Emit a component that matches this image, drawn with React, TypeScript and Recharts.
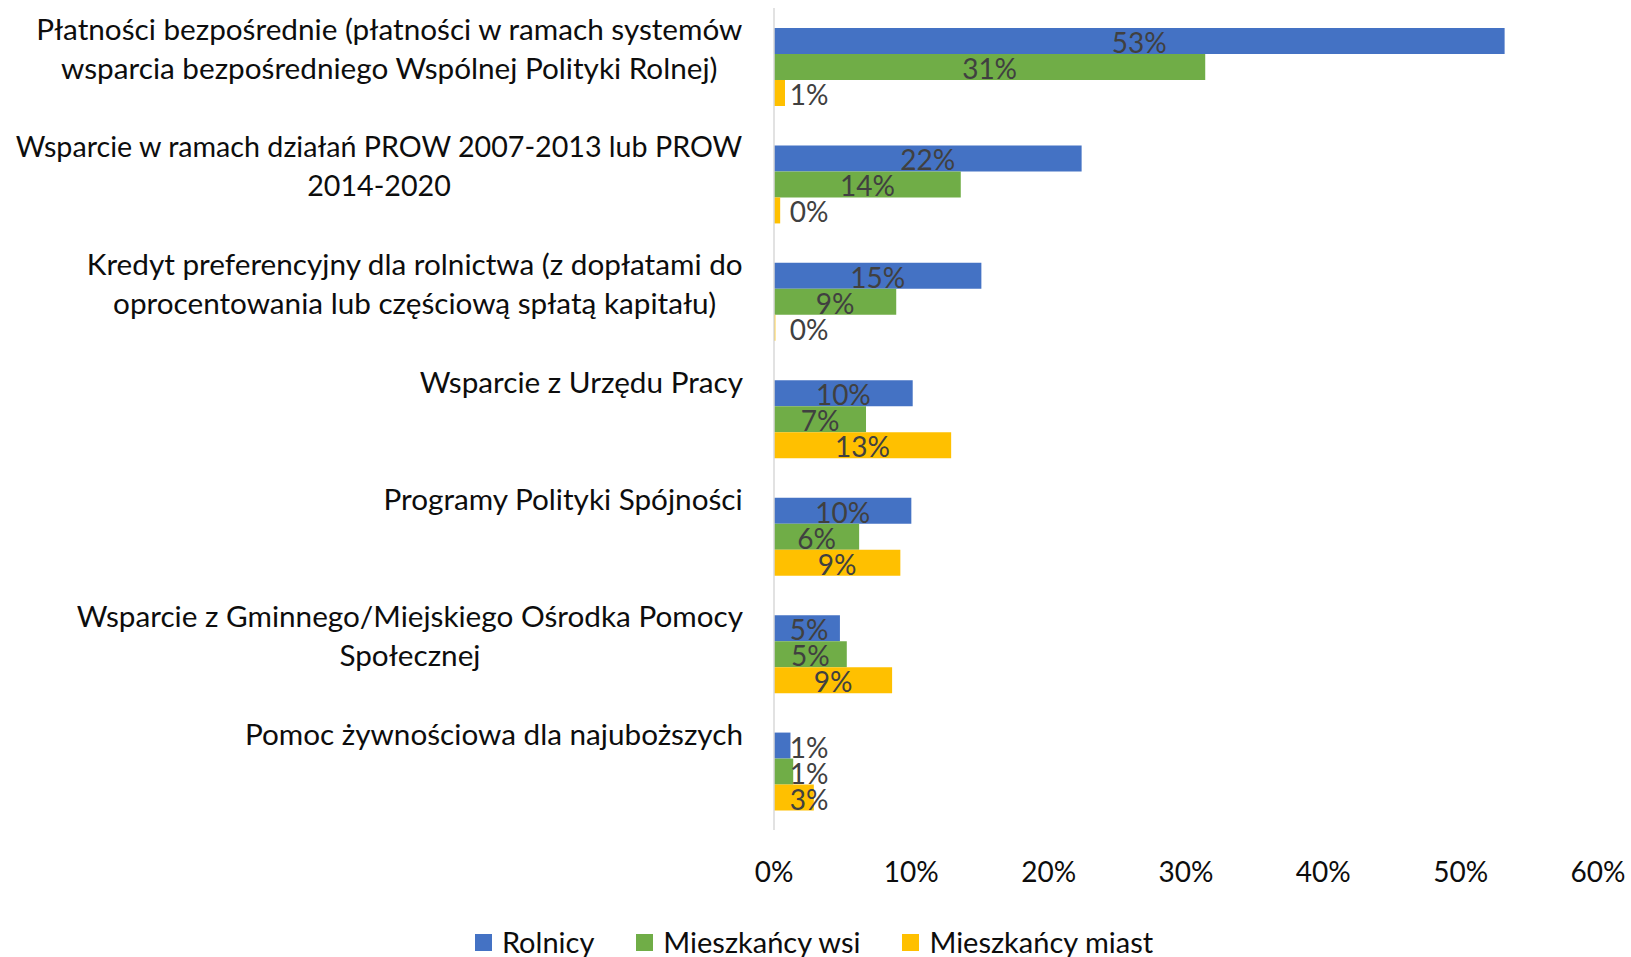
import { Bar, BarChart, LabelList, Legend, XAxis, YAxis } from 'recharts'

const categories = [
  'Płatności bezpośrednie (płatności w ramach systemów\nwsparcia bezpośredniego Wspólnej Polityki Rolnej)',
  'Wsparcie w ramach działań PROW 2007-2013 lub PROW\n2014-2020',
  'Kredyt preferencyjny dla rolnictwa (z dopłatami do\noprocentowania lub częściową spłatą kapitału)',
  'Wsparcie z Urzędu Pracy',
  'Programy Polityki Spójności',
  'Wsparcie z Gminnego/Miejskiego Ośrodka Pomocy\nSpołecznej',
  'Pomoc żywnościowa dla najuboższych',
]
const rolnicy = [53.2, 22.4, 15.1, 10.1, 10.0, 4.8, 1.2]
const wsi = [31.4, 13.6, 8.9, 6.7, 6.2, 5.3, 1.4]
const miast = [0.8, 0.45, 0.1, 12.9, 9.2, 8.6, 2.9]
const xTicks = [0, 10, 20, 30, 40, 50, 60]

const series = [
  { key: 'rolnicy', name: 'Rolnicy', color: '#4472C4' },
  { key: 'wsi', name: 'Mieszkańcy wsi', color: '#70AD47' },
  { key: 'miast', name: 'Mieszkańcy miast', color: '#FFC000' },
]

const data = categories.map((name, i) => ({ name, rolnicy: rolnicy[i], wsi: wsi[i], miast: miast[i] }))

const FONT = 'Lato, "Open Sans", sans-serif'
const FS = 28
const CAT_FS = 29.7
const MAX_LABEL_W = 728

const ctx = typeof document !== 'undefined' ? document.createElement('canvas').getContext('2d') : null
const textWidth = (s: string, size: number) => {
  if (!ctx) return s.length * size * 0.5
  ctx.font = `${size}px Lato`
  return ctx.measureText(s).width
}

function CategoryTick({ x, y, payload }: any) {
  const lines = String(payload.value).split('\n')
  const right = x - 31
  let size = CAT_FS
  let widest = Math.max(...lines.map((l) => textWidth(l, size)))
  if (widest > MAX_LABEL_W) {
    size = (size * MAX_LABEL_W) / widest
    widest = MAX_LABEL_W
  }
  const cx = right - widest / 2
  return (
    <g>
      {lines.map((l, i) => (
        <text key={i} x={cx} y={y - 38 + i * 39} textAnchor="middle" dominantBaseline="central" fontFamily={FONT} fontSize={size} fill="#0d0d0d">
          {l}
        </text>
      ))}
    </g>
  )
}

function PctTick({ x, y, payload }: any) {
  return (
    <text x={x} y={y + 41} textAnchor="middle" dominantBaseline="central" fontFamily={FONT} fontSize={FS} fill="#0d0d0d">
      {`${payload.value}%`}
    </text>
  )
}

function BarLabel({ x, y, width, height, value }: any) {
  const cx = Math.max(x + width / 2, x + 35)
  return (
    <text x={cx} y={y + height / 2 + 1} textAnchor="middle" dominantBaseline="central" fontFamily={FONT} fontSize={FS} fill="#404040">
      {`${Math.round(value)}%`}
    </text>
  )
}

function LegendBox() {
  return (
    <div style={{ height: 40, display: 'flex', justifyContent: 'center', alignItems: 'center', paddingTop: 10, paddingLeft: 30, boxSizing: 'border-box', fontFamily: FONT, fontSize: 29, color: '#0d0d0d' }}>
      {series.map((s, i) => (
        <div key={s.key} style={{ display: 'flex', alignItems: 'center', marginRight: i < series.length - 1 ? 42 : 0 }}>
          <span style={{ width: 17, height: 17, background: s.color, display: 'inline-block', marginRight: 10 }} />
          <span style={{ lineHeight: '30px' }}>{s.name}</span>
        </div>
      ))}
    </div>
  )
}

export default function App() {
  return (
    <div style={{ position: 'absolute', left: 0, top: 0, background: '#fff' }}>
      <BarChart
        width={1631}
        height={957}
        data={data}
        layout="vertical"
        margin={{ top: 8, right: 33, left: 0, bottom: 0 }}
        barGap={0}
      >
        <XAxis
          type="number"
          domain={[0, 60]}
          ticks={xTicks}
          axisLine={false}
          tickLine={false}
          tickSize={0}
          tickMargin={0}
          height={87}
          tick={<PctTick />}
          interval={0}
        />
        <YAxis
          type="category"
          dataKey="name"
          width={774}
          axisLine={{ stroke: '#d9d9d9', strokeWidth: 1.5 }}
          tickLine={false}
          tickSize={0}
          tickMargin={0}
          tick={<CategoryTick />}
          interval={0}
        />
        <Legend verticalAlign="bottom" content={<LegendBox />} />
        {series.map((s) => (
          <Bar key={s.key} dataKey={s.key} name={s.name} fill={s.color} barSize={26} isAnimationActive={false}>
            <LabelList dataKey={s.key} content={<BarLabel />} />
          </Bar>
        ))}
      </BarChart>
    </div>
  )
}
